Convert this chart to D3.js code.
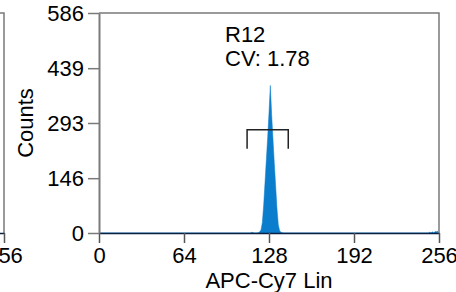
<!DOCTYPE html>
<html>
<head>
<meta charset="utf-8">
<script src="https://cdn.jsdelivr.net/npm/d3@7"></script>
<style>
  body { margin: 0; background: #fff; }
  svg { display: block; font-family: "Liberation Sans", Arial, sans-serif; }
  .tick text { font-size: 22px; fill: #000; }
  .lbl { font-size: 22px; fill: #000; }
</style>
</head>
<body>
<div id="chart"></div>
<script>
var width = 456;
var height = 292;

// histogram data (channel -> counts), channels not listed are 0
var channels = [115, 116, 120, 121, 122, 123, 124, 125, 126, 127, 128, 129, 130, 131, 132, 133, 134, 135, 136, 137, 138, 249, 251, 253, 254, 255];
var counts   = [2,   1,   1,   3,   8,   28,  75,  135, 195, 255, 320, 393, 315, 250, 185, 125, 65,  22,  6,   2,   1,   2,   3,   4,   3,   5];

var xTicks = [0, 64, 128, 192, 256];
var yTicks = [0, 146, 293, 439, 586];
var yMax = 586;

// gate marker R12
var gateName = "R12";
var gateCV = "CV: 1.78";
var gateRange = [111.5, 142.5];
var gateLevel = 275;

// plot box
var plotLeft = 99;
var plotRight = 439;
var plotTop = 13;
var plotBottom = 233;

var svg = d3.select("#chart")
  .append("svg")
  .attr("width", width)
  .attr("height", height);

// build full channel series
var full = d3.range(0, 256).map(function(c) { return { c: c, n: 0 }; });
channels.forEach(function(c, i) { full[c].n = counts[i]; });

function drawPanel(offset, data, main) {
  var g = svg.append("g").attr("transform", "translate(" + offset + ",0)");

  var xScale = d3.scaleLinear().domain([0, 256]).range([plotLeft, plotRight]);
  var yScale = d3.scaleLinear().domain([0, yMax]).range([plotBottom, plotTop]);

  // top and right border
  g.append("path")
    .attr("d", "M" + plotLeft + "," + plotTop + "H" + plotRight + "V" + plotBottom)
    .attr("fill", "none")
    .attr("stroke", "#7a7a7a")
    .attr("stroke-width", 1.5);

  // histogram
  if (data) {
    var area = d3.area()
      .x(function(d) { return xScale(d.c); })
      .y0(yScale(0))
      .y1(function(d) { return yScale(d.n); });
    g.append("path")
      .datum(data)
      .attr("d", area)
      .attr("fill", "#0a7dcc")
      .attr("stroke", "#0a7dcc")
      .attr("stroke-width", 0.5);
  }

  // x axis
  var xAxis = d3.axisBottom(xScale).tickValues(xTicks).tickSize(10).tickPadding(4).tickSizeOuter(0);
  var gx = g.append("g")
    .attr("transform", "translate(0," + plotBottom + ")")
    .call(xAxis);
  gx.select(".domain").attr("stroke", "#0c1f3f").attr("stroke-width", 1.5);
  gx.selectAll(".tick line").attr("stroke", "#555").attr("stroke-width", 1.5);

  // y axis
  var yAxis = d3.axisLeft(yScale).tickValues(yTicks).tickSize(11).tickPadding(4).tickSizeOuter(0);
  var gy = g.append("g")
    .attr("transform", "translate(" + plotLeft + ",0)")
    .call(yAxis);
  gy.select(".domain").attr("stroke", "#7a7a7a").attr("stroke-width", 2);
  gy.selectAll(".tick line").attr("stroke", "#7a7a7a").attr("stroke-width", 1.5);

  if (!main) {
    // neighbour panel: only its last x label peeks into view
    gy.selectAll(".tick text").remove();
    gx.selectAll(".tick text").filter(function(d) { return d !== 256; }).remove();
    return { x: xScale, y: yScale, g: g };
  }

  // axis titles
  g.append("text")
    .attr("class", "lbl")
    .attr("transform", "translate(33," + ((plotTop + plotBottom) / 2) + ")rotate(-90)")
    .attr("text-anchor", "middle")
    .text("Counts");
  g.append("text")
    .attr("class", "lbl")
    .attr("x", (plotLeft + plotRight) / 2)
    .attr("y", 288)
    .attr("text-anchor", "middle")
    .text("APC-Cy7 Lin");

  return { x: xScale, y: yScale, g: g };
}

// left neighbour panel (mostly cut off)
drawPanel(-435, null, false);

// main panel
var p = drawPanel(0, full, true);

// gate bracket
var gy0 = p.y(gateLevel);
var gx0 = p.x(gateRange[0]);
var gx1 = p.x(gateRange[1]);
p.g.append("path")
  .attr("d", "M" + gx0 + "," + (gy0 + 19) + "V" + gy0 + "H" + gx1 + "V" + (gy0 + 19))
  .attr("fill", "none")
  .attr("stroke", "#222")
  .attr("stroke-width", 1.5);

p.g.append("text").attr("class", "lbl").attr("x", 225).attr("y", 42).text(gateName);
p.g.append("text").attr("class", "lbl").attr("x", 225).attr("y", 66).text(gateCV);
</script>
</body>
</html>
